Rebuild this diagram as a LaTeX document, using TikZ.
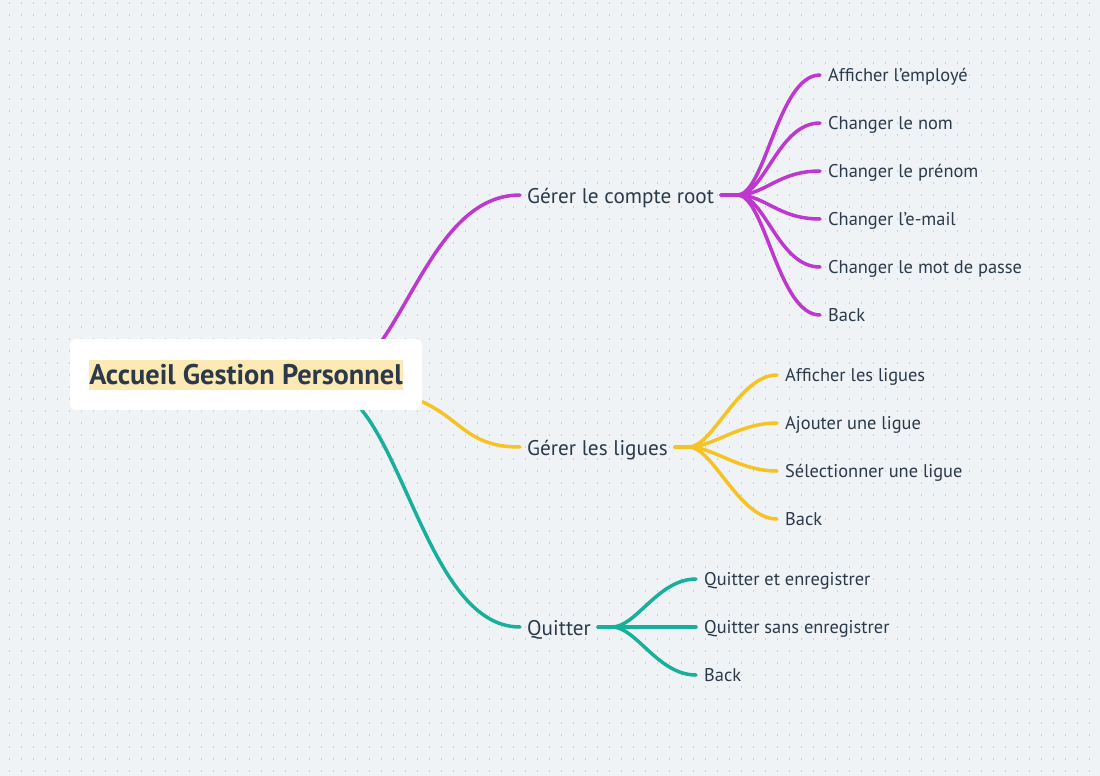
\documentclass[tikz,border=0pt]{standalone}
\usepackage{fontspec}
\setmainfont{PT Sans}
\usetikzlibrary{positioning}

\definecolor{paper}{HTML}{F0F3F6}
\definecolor{dotgray}{HTML}{CBD0D5}
\definecolor{ink}{HTML}{2B3A4A}
\definecolor{mauve}{HTML}{BE37CE}
\definecolor{amber}{HTML}{F6C324}
\definecolor{tealline}{HTML}{18AF9B}
\definecolor{hilite}{HTML}{FCE9B3}

\tikzset{
  dotrow/.style={dotgray, line width=1.5pt, dash pattern=on 1.2pt off 10.8pt},
  topic/.style={anchor=west, inner xsep=7pt, inner ysep=0pt, text=ink,
    text height=20pt, text depth=4pt, font=\fontsize{21.2}{25}\selectfont},
  leaf/.style={anchor=west, inner xsep=8pt, inner ysep=0pt, text=ink,
    text height=17.4pt, text depth=4pt, font=\fontsize{18.4}{22}\selectfont},
  branch/.style={line width=3.5pt, line cap=round},
  rootbox/.style={fill=white, rounded corners=6pt, minimum width=352pt,
    minimum height=71pt},
  roottext/.style={fill=hilite, inner xsep=0pt, inner ysep=1pt, text=ink,
    text height=24pt, text depth=4pt, font=\fontsize{28.4}{32}\selectfont\bfseries}
}

\begin{document}
\begin{tikzpicture}[x=1pt, y=-1pt]
  % Background and dot grid
  \fill[paper] (0,0) rectangle (1100,776);
  \useasboundingbox (0,0) rectangle (1100,776);
  \foreach \y in {3,15,...,771}
    \draw[dotrow] (9,\y) -- (1100,\y);

  % Start of the main branches (hidden by the root box)
  \coordinate (hub) at (320,385);

  % Main topics
  \node[topic] (compte) at (520,195) {Gérer le compte root};
  \node[topic] (ligues) at (520,447) {Gérer les ligues};
  \node[topic] (quitter) at (520,627) {Quitter};

  % Sub topics
  \node[leaf] (cmp1) at (820,75) {Afficher l’employé};
  \node[leaf] (cmp2) at (820,123) {Changer le nom};
  \node[leaf] (cmp3) at (820,171) {Changer le prénom};
  \node[leaf] (cmp4) at (820,219) {Changer l’e-mail};
  \node[leaf] (cmp5) at (820,267) {Changer le mot de passe};
  \node[leaf] (cmp6) at (820,315) {Back};

  \node[leaf] (lig1) at (777,375) {Afficher les ligues};
  \node[leaf] (lig2) at (777,423) {Ajouter une ligue};
  \node[leaf] (lig3) at (777,471) {Sélectionner une ligue};
  \node[leaf] (lig4) at (777,519) {Back};

  \node[leaf] (qui1) at (696,579) {Quitter et enregistrer};
  \node[leaf] (qui2) at (696,627) {Quitter sans enregistrer};
  \node[leaf] (qui3) at (696,675) {Back};

  % Branches from the root
  \draw[branch, mauve] (hub) .. controls +(80,0) and +(-100,0) .. (compte.west);
  \draw[branch, amber] (hub) .. controls +(150,0) and +(-80,0) .. (ligues.west);
  \draw[branch, tealline] (hub) .. controls +(80,0) and +(-100,0) .. (quitter.west);

  % Branches to the sub topics
  \foreach \i in {1,...,6}
    \draw[branch, mauve] (compte.east) -- ++(16,0)
      .. controls +(28,0) and +(-42,0) .. (cmp\i.west);
  \foreach \i in {1,...,4}
    \draw[branch, amber] (ligues.east) -- ++(14,0)
      .. controls +(24,0) and +(-38,0) .. (lig\i.west);
  \foreach \i in {1,...,3}
    \draw[branch, tealline] (quitter.east) -- ++(14,0)
      .. controls +(24,0) and +(-38,0) .. (qui\i.west);

  % Root topic
  \node[rootbox] (root) at (246,374.5) {};
  \node[roottext] (rootlabel) at (root.center) {Accueil Gestion Personnel};
\end{tikzpicture}
\end{document}
